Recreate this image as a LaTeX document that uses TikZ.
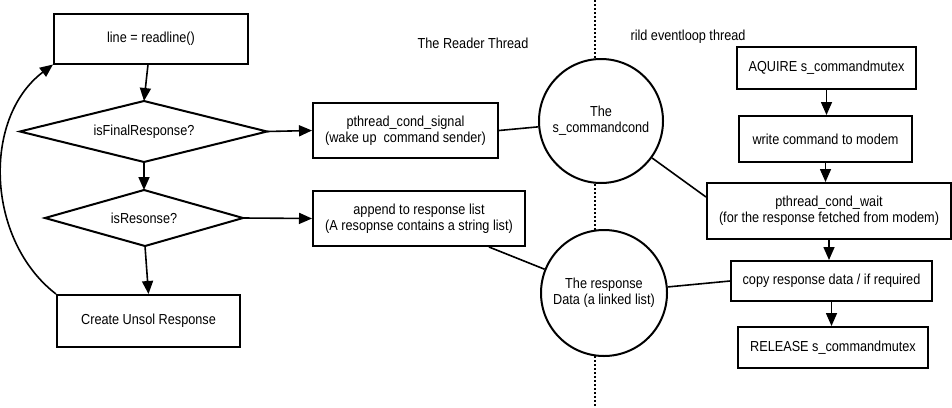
\documentclass[tikz,border=0pt]{standalone}
\usepackage{fontspec}
\setmainfont{Liberation Sans}[FakeStretch=0.875]
\usetikzlibrary{arrows.meta}
\begin{document}
\begin{tikzpicture}[x=1pt,y=-1pt,
  font=\fontsize{14.5}{16}\selectfont,
  box/.style={draw, rectangle, line width=2pt, inner sep=0pt, align=center, fill=white},
  decline/.style={line width=2pt, line join=miter},
  circ/.style={draw, circle, line width=2pt, inner sep=0pt, align=center, fill=white},
  conn/.style={line width=1.6pt},
  arr/.style={conn, -{Triangle[length=13pt,width=11pt]}},
  lbl/.style={inner sep=0pt}]
\fill[white] (0,0) rectangle (952,407);
\useasboundingbox (0,0) rectangle (952,407);

% dotted separator
\coordinate (sepTop) at (595,0);
\coordinate (sepBot) at (595,407);
\draw[line width=2pt, dash pattern=on 2pt off 2pt] (sepTop) -- (sepBot);

% titles
\node[lbl] (tReader) at (473,43) {The Reader Thread};
\node[lbl] (tRild) at (688,37) {rild eventloop thread};

% left column
\node[box, minimum width=194pt, minimum height=50pt] (rl) at (151,38.5) {line = readline()};

% decision 1
\coordinate (d1n) at (144,101);
\coordinate (d1e) at (267,131.5);
\coordinate (d1s) at (144,162);
\coordinate (d1w) at (20,131.5);
\draw[decline] (d1n) -- (d1e) -- (d1s) -- (d1w) -- cycle;
\node[lbl] (d1) at (144,131.5) {isFinalResponse?};

% decision 2
\coordinate (d2n) at (144,190);
\coordinate (d2e) at (243,218);
\coordinate (d2s) at (145,246);
\coordinate (d2w) at (45,218);
\draw[decline] (d2n) -- (d2e) -- (d2s) -- (d2w) -- cycle;
\node[lbl] (d2) at (144,218) {isResonse?};

\node[box, minimum width=183pt, minimum height=52pt] (unsol) at (148.5,321) {Create Unsol Response};

% middle
\node[box, minimum width=185pt, minimum height=55pt] (sig) at (405.5,130.5) {pthread\_cond\_signal\\(wake up~~command sender)};
\node[box, minimum width=212pt, minimum height=55pt] (app) at (419,218.5) {append to response list\\(A resopnse contains a string list)};

\node[circ, minimum size=124pt] (c1) at (601,121) {The\\s\_commandcond};
\node[circ, minimum size=126pt] (c2) at (604,293) {The response\\Data (a linked list)};

% right column
\node[box, minimum width=179pt, minimum height=42pt] (aq) at (826.5,68) {AQUIRE s\_commandmutex};
\node[box, minimum width=173pt, minimum height=46pt] (wr) at (825.5,139) {write command to modem};
\node[box, minimum width=244pt, minimum height=56pt] (wait) at (829,211) {pthread\_cond\_wait\\(for the response fetched from modem)};
\node[box, minimum width=201pt, minimum height=40pt] (copy) at (831.5,281) {copy response data / if required};
\node[box, minimum width=190pt, minimum height=41pt] (rel) at (833,347.5) {RELEASE s\_commandmutex};

% left arrows
\draw[arr] (rl.south) ++(-3pt,0) -- (d1n);
\draw[arr] (d1s) -- (d2n);
\draw[arr] (d2s) -- (unsol.north);
\draw[arr] (unsol.north west) .. controls (-14,240) and (-18,118) .. (rl.south west);
\draw[arr] (d1e) -- (sig.west);
\draw[arr] (d2e) -- (app.west);

% links to circles
\draw[conn] (sig.east) -- (c1);
\draw[conn] ([xshift=70pt]app.south) -- (c2);
\draw[conn] (c1) -- ([yshift=-15pt]wait.north west);
\draw[conn] (c2) -- (copy.west);

% right arrows
\draw[arr] (aq.south) -- (aq.south |- wr.north);
\draw[arr] (wr.south) -- (wr.south |- wait.north);
\draw[arr] (wait.south) -- (wait.south |- copy.north);
\draw[arr] (copy.south) -- (copy.south |- rel.north);
\end{tikzpicture}
\end{document}
